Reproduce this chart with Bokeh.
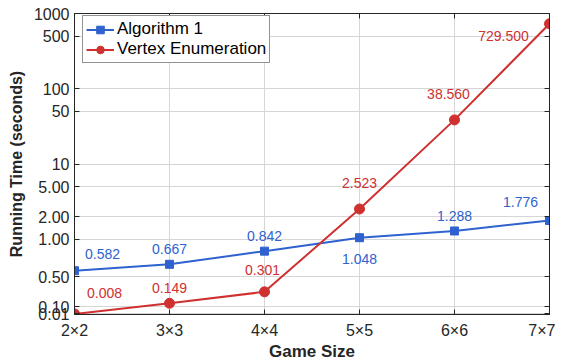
import math
from bokeh.plotting import figure
from bokeh.models import (Range1d, FixedTicker, CustomJSTickFormatter, LinearAxis,
                          Legend, LegendItem, ColumnDataSource, CustomLabelingPolicy)
from bokeh.embed import file_html
from bokeh.resources import INLINE
from bokeh.core.properties import value

# ---- data ----
game_sizes = ["2×2", "3×3", "4×4", "5×5", "6×6", "7×7"]
algorithm1 = [0.582, 0.667, 0.842, 1.048, 1.288, 1.776]
vertex_enum = [0.008, 0.149, 0.301, 2.523, 38.560, 729.500]
algorithm1_labels = ["0.582", "0.667", "0.842", "1.048", "1.288", "1.776"]
vertex_enum_labels = ["0.008", "0.149", "0.301", "2.523", "38.560", "729.500"]
y_tick_values = [0.01, 0.1, 0.5, 1, 2, 5, 10, 50, 100, 500, 1000]
y_tick_labels = ["0.01", "0.10", "0.50", "1.00", "2.00", "5.00", "10", "50", "100", "500", "1000"]

# label offsets (screen px, positive dy = downwards), style only
blue_dx = [28, 0, 0, 0, 0, -29]
blue_dy = [-17, -15, -15, 21, -15, -18]
red_dx = [30, 0, -2, 0, -6, -46]
red_dy = [-21, -15, -22, -26, -26, 12]

BLUE = "#2f62cf"
RED = "#cf3030"
DARK = "#262626"
FONT = "Liberation Sans"


def f(v):
    # linear below 1, logarithmic above 1 (as in the reference axis)
    return v if v < 1 else 1 + math.log10(v)


xs = list(range(len(game_sizes)))
blue_src = ColumnDataSource(dict(x=xs, y=[f(v) for v in algorithm1], t=algorithm1_labels,
                                 dx=blue_dx, dy=blue_dy))
red_src = ColumnDataSource(dict(x=xs, y=[f(v) for v in vertex_enum], t=vertex_enum_labels,
                                dx=red_dx, dy=red_dy))

p = figure(frame_width=475, frame_height=301, output_backend="svg", toolbar_location=None,
           x_range=Range1d(0, len(game_sizes) - 1), y_range=Range1d(0, f(1000)),
           min_border_left=74, min_border_top=13, min_border_right=6, min_border_bottom=0,
           background_fill_color="white", border_fill_color="white")

yticks = [f(v) for v in y_tick_values]
yfmt = CustomJSTickFormatter(args=dict(tvals=yticks, tlabels=y_tick_labels), code="""
    let best = 0, bd = 1e9;
    for (let i = 0; i < tvals.length; i++) { const d = Math.abs(tvals[i] - tick); if (d < bd) { bd = d; best = i; } }
    return tlabels[best];
""")
xfmt = CustomJSTickFormatter(args=dict(xlabels=game_sizes), code="""
    return xlabels[Math.round(tick)];
""")

p.xaxis.ticker = FixedTicker(ticks=xs)
p.xaxis.formatter = xfmt
p.yaxis.ticker = FixedTicker(ticks=yticks)
p.yaxis.formatter = yfmt

for ax in (p.xaxis[0], p.yaxis[0]):
    ax.major_tick_in = 5
    ax.major_tick_out = 0
    ax.minor_tick_in = 0
    ax.minor_tick_out = 0
    ax.axis_line_color = DARK
    ax.major_tick_line_color = DARK
    ax.major_label_text_font = FONT
    ax.major_label_text_font_size = "16px"
    ax.major_label_text_color = DARK
    ax.axis_label_text_font = FONT
    ax.axis_label_text_font_style = "bold"
    ax.axis_label_text_color = DARK

p.xaxis.axis_label = "Game Size"
p.xaxis.axis_label_text_font_size = "17px"
p.xaxis.major_label_standoff = 7
p.xaxis.axis_label_standoff = 0
p.yaxis.axis_label = "Running Time (seconds)"
p.yaxis.axis_label_text_font_size = "16px"
p.yaxis.major_label_standoff = 5
p.yaxis.axis_label_standoff = 6

# mirror axes (ticks only, no labels) on right and top
def mirror_axis(ticks):
    return LinearAxis(ticker=FixedTicker(ticks=ticks), major_label_text_font_size="1px",
                      major_label_policy=CustomLabelingPolicy(code="return []"),
                      major_tick_in=5, major_tick_out=0, minor_tick_in=0, minor_tick_out=0,
                      major_label_standoff=0, axis_line_color=DARK, major_tick_line_color=DARK)


p.add_layout(mirror_axis(yticks), "right")
p.add_layout(mirror_axis(xs), "above")

p.xgrid.ticker = FixedTicker(ticks=xs)
p.ygrid.ticker = FixedTicker(ticks=yticks)
p.grid.grid_line_color = "#d6d6d6"
p.grid.grid_line_width = 1
p.outline_line_color = DARK
p.outline_line_width = 1

bl = p.line("x", "y", source=blue_src, color=BLUE, line_width=2)
bs = p.scatter("x", "y", source=blue_src, marker="square", size=8, color=BLUE)
rl = p.line("x", "y", source=red_src, color=RED, line_width=2)
rs = p.scatter("x", "y", source=red_src, marker="circle", size=10, color=RED)

p.text("x", "y", text="t", source=blue_src, x_offset="dx", y_offset="dy",
       text_color=BLUE, text_font=value(FONT), text_font_size="14px",
       text_align="center", text_baseline="middle")
p.text("x", "y", text="t", source=red_src, x_offset="dx", y_offset="dy",
       text_color=RED, text_font=value(FONT), text_font_size="14px",
       text_align="center", text_baseline="middle")

legend = Legend(items=[LegendItem(label="Algorithm 1", renderers=[bl, bs]),
                       LegendItem(label="Vertex Enumeration", renderers=[rl, rs])],
                location=(8, 251), margin=0, padding=3, spacing=0,
                label_text_font=FONT, label_text_font_size="17px", label_text_color="black",
                label_height=19, glyph_height=19, glyph_width=28, label_standoff=3,
                border_line_color=DARK, border_line_width=1, background_fill_alpha=1)
p.add_layout(legend, "center")

open("out.html", "w").write(file_html(p, INLINE))
